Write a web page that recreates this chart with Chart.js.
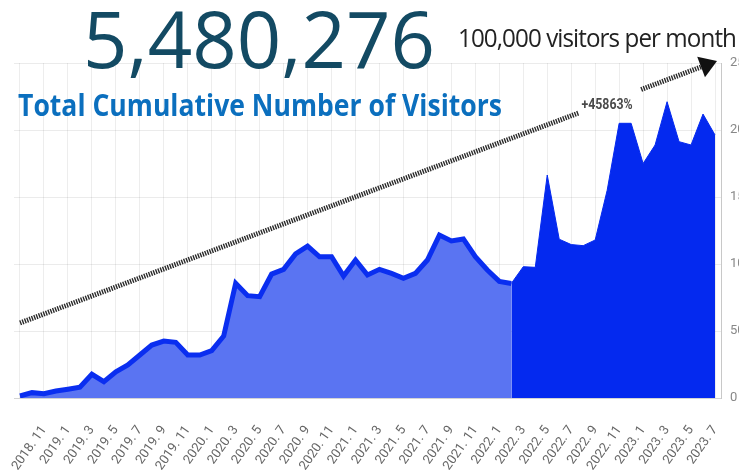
<!DOCTYPE html>
<html lang="en">
<head>
<meta charset="UTF-8">
<title>Total Cumulative Number of Visitors</title>
<script src="https://cdn.jsdelivr.net/npm/chart.js"></script>
<style>
  html, body { margin: 0; padding: 0; background: #fff; }
  #wrap { position: relative; width: 739px; height: 472px; overflow: hidden; }
  #visitorsChart { position: absolute; left: 0; top: 0; }
  .ttl { position: absolute; white-space: nowrap; line-height: 1; font-family: 'Open Sans', sans-serif; transform-origin: 0 0; }
  #total { left: 83px; top: -1px; font-size: 78px; color: #134a63; }
  #subtitle { left: 18px; top: 89px; font-size: 31px; font-weight: 700; color: #0b6fbe; }
  #perMonth { left: 458px; top: 24px; font-size: 26px; font-weight: 500; color: #222; letter-spacing: -1px; }
</style>
</head>
<body>
<div id="wrap">
  <canvas id="visitorsChart" width="739" height="472"></canvas>
  <div class="ttl" id="total">5,480,276</div>
  <div class="ttl" id="subtitle">Total Cumulative Number of Visitors</div>
  <div class="ttl" id="perMonth">100,000 visitors per month</div>
</div>
<script>
const months = [
  '2018. 9', '2018. 10', '2018. 11', '2018. 12',
  '2019. 1', '2019. 2', '2019. 3', '2019. 4', '2019. 5', '2019. 6',
  '2019. 7', '2019. 8', '2019. 9', '2019. 10', '2019. 11', '2019. 12',
  '2020. 1', '2020. 2', '2020. 3', '2020. 4', '2020. 5', '2020. 6',
  '2020. 7', '2020. 8', '2020. 9', '2020. 10', '2020. 11', '2020. 12',
  '2021. 1', '2021. 2', '2021. 3', '2021. 4', '2021. 5', '2021. 6',
  '2021. 7', '2021. 8', '2021. 9', '2021. 10', '2021. 11', '2021. 12',
  '2022. 1', '2022. 2', '2022. 3', '2022. 4', '2022. 5', '2022. 6',
  '2022. 7', '2022. 8', '2022. 9', '2022. 10', '2022. 11', '2022. 12',
  '2023. 1', '2023. 2', '2023. 3', '2023. 4', '2023. 5', '2023. 6',
  '2023. 7'
];

// monthly visitors
const visitors = [
  1500, 4000, 3200, 5200, 6500, 8000, 17700, 12200, 19600, 24600,
  32100, 39500, 42500, 41500, 32100, 32100, 35300, 46300, 85600, 76400,
  75600, 92500, 96000, 107500, 113400, 105400, 105400, 91000, 103000, 91800,
  96000, 93000, 89300, 93000, 103000, 121600, 117200, 118700, 105400, 95500,
  87000, 85500, 98000, 97500, 166400, 118500, 114500, 113700, 117900, 155000,
  205000, 205000, 175000, 188800, 221100, 191300, 188800, 211900, 196300
];

// the recent stretch is drawn in the darker colour
const highlightFrom = '2022. 2';

const yTicks = [0, 50000, 100000, 150000, 200000, 250000];

const trend = { fromMonth: '2018. 9', fromValue: 56000, toMonth: '2023. 7', toValue: 251500, label: '+45863%' };

const split = months.indexOf(highlightFrom);
const earlier = visitors.map((v, i) => i <= split ? v : null);
const recent = visitors.map((v, i) => i >= split ? v : null);

const trendArrow = {
  id: 'trendArrow',
  afterDatasetsDraw(chart) {
    const { ctx, scales: { x, y } } = chart;
    const x0 = x.getPixelForValue(months.indexOf(trend.fromMonth));
    const y0 = y.getPixelForValue(trend.fromValue);
    const x1 = x.getPixelForValue(months.indexOf(trend.toMonth)) + 2;
    const y1 = y.getPixelForValue(trend.toValue);
    const len = Math.hypot(x1 - x0, y1 - y0);
    const dx = (x1 - x0) / len, dy = (y1 - y0) / len;
    const head = 17, half = 11;
    const bx = x1 - dx * head, by = y1 - dy * head;
    const at = t => [x0 + (bx - x0) * t, y0 + (by - y0) * t];
    ctx.save();
    ctx.strokeStyle = '#2a2a2a';
    ctx.lineWidth = 5;
    ctx.setLineDash([1.4, 1.1]);
    const g0 = at(0.82), g1 = at(0.912);
    ctx.beginPath();
    ctx.moveTo(x0, y0);
    ctx.lineTo(g0[0], g0[1]);
    ctx.moveTo(g1[0], g1[1]);
    ctx.lineTo(bx, by);
    ctx.stroke();
    ctx.setLineDash([]);
    ctx.fillStyle = '#111';
    ctx.beginPath();
    ctx.moveTo(x1, y1);
    ctx.lineTo(bx - dy * half, by + dx * half);
    ctx.lineTo(bx + dy * half, by - dx * half);
    ctx.closePath();
    ctx.fill();
    const lp = at(0.862);
    ctx.translate(lp[0], lp[1] + 3);
    ctx.scale(0.88, 1);
    ctx.fillStyle = '#4a4a4a';
    ctx.font = 'bold 14px Roboto';
    ctx.textAlign = 'center';
    ctx.textBaseline = 'middle';
    ctx.fillText(trend.label, 0, 0);
    ctx.restore();
  }
};

new Chart(document.getElementById('visitorsChart'), {
  type: 'line',
  data: {
    labels: months,
    datasets: [
      {
        data: earlier,
        borderColor: '#0a2ef0',
        backgroundColor: '#5a74f2',
        borderWidth: 5,
        fill: 'origin',
        pointRadius: 0,
        tension: 0
      },
      {
        data: recent,
        borderColor: '#0429ef',
        backgroundColor: '#0429ef',
        borderWidth: 1,
        fill: 'origin',
        pointRadius: 0,
        tension: 0
      }
    ]
  },
  options: {
    responsive: false,
    animation: false,
    layout: { padding: { left: 14, top: 63 } },
    plugins: {
      legend: { display: false },
      tooltip: { enabled: false }
    },
    scales: {
      x: {
        offset: true,
        grid: {
          offset: false,
          drawTicks: true,
          tickLength: 25,
          tickColor: 'rgba(0,0,0,0)',
          color: c => c.index % 2 === 0 ? 'rgba(0,0,0,0.07)' : 'rgba(0,0,0,0)'
        },
        border: { color: '#d4d4d4' },
        ticks: {
          autoSkip: false,
          minRotation: 55,
          maxRotation: 55,
          padding: 0,
          color: '#666',
          font: { family: 'Roboto', size: 13 },
          callback: function (v, i) {
            return i > 0 && i % 2 === 0 ? this.getLabelForValue(v) : '';
          }
        },
        afterFit: s => { s.height = 74; }
      },
      y: {
        position: 'right',
        min: 0,
        max: 250000,
        afterBuildTicks: s => { s.ticks = yTicks.map(v => ({ value: v })); },
        grid: { color: 'rgba(0,0,0,0.08)', drawTicks: false },
        border: { color: '#c8c8c8' },
        ticks: {
          padding: 9,
          color: '#888',
          font: { family: 'Roboto', size: 13 }
        },
        afterFit: s => { s.width = 18; }
      }
    }
  },
  plugins: [trendArrow]
});

// squeeze the headings to the widths they take in the picture
function fitWidth(id, w) {
  const el = document.getElementById(id);
  el.style.transform = 'scaleX(' + (w / el.getBoundingClientRect().width) + ')';
}
fitWidth('total', 352);
fitWidth('subtitle', 484);
fitWidth('perMonth', 278);
</script>
</body>
</html>
